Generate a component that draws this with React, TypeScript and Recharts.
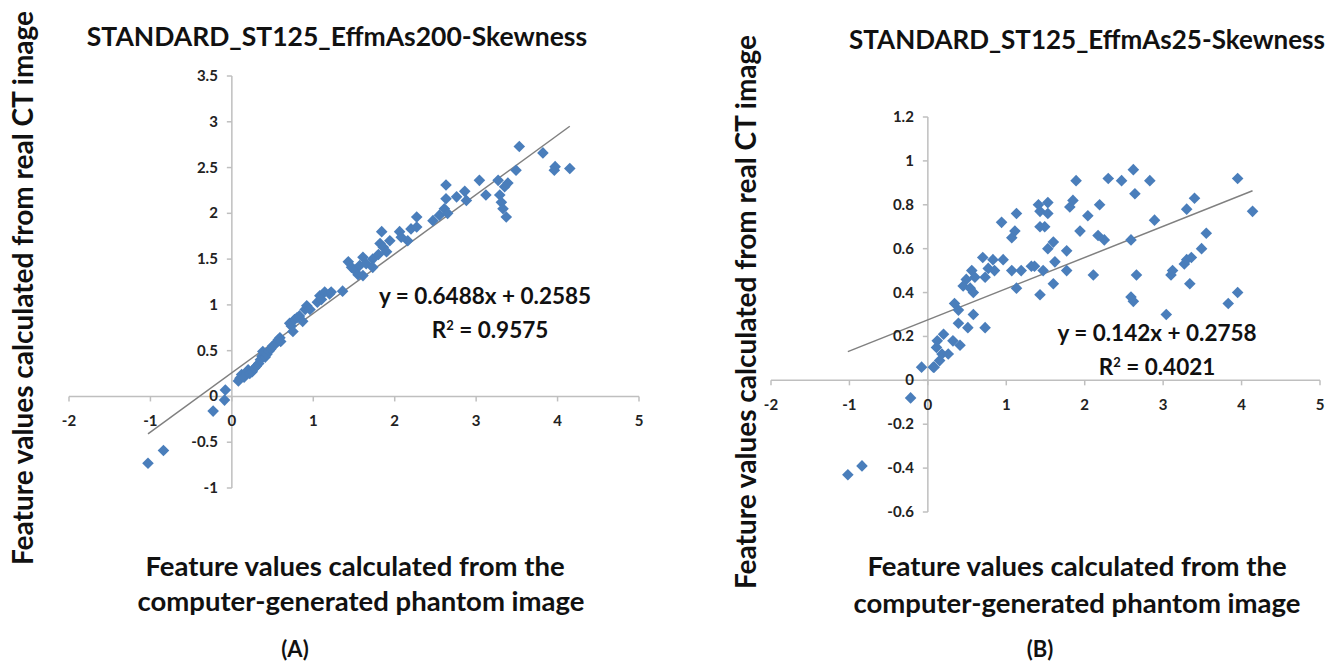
import { ScatterChart, Scatter, XAxis, YAxis, ReferenceLine, ReferenceDot } from 'recharts'

// Panel A: STANDARD_ST125_EffmAs200-Skewness
const phantomA = [
  -1.03, -0.84, -0.23, -0.09, -0.08,
  0.08, 0.1, 0.12, 0.15, 0.18, 0.2, 0.22, 0.25, 0.28, 0.3, 0.33, 0.35, 0.37, 0.38, 0.41, 0.43, 0.46, 0.48, 0.5, 0.53, 0.55, 0.57, 0.59, 0.6,
  0.71, 0.73, 0.75, 0.77, 0.8, 0.83, 0.87, 0.9, 0.92, 0.96, 1.05, 1.08, 1.1, 1.14, 1.2, 1.22, 1.36,
  1.43, 1.47, 1.51, 1.55, 1.57, 1.61, 1.61, 1.65, 1.73, 1.73, 1.8,
  1.82, 1.84, 1.86, 1.9, 1.94, 2.06, 2.08, 2.16, 2.2, 2.27, 2.27, 2.47, 2.55, 2.61, 2.63, 2.63, 2.65,
  2.76, 2.86, 2.88, 3.04, 3.12, 3.27, 3.29, 3.31, 3.35, 3.39, 3.37, 3.33, 3.49, 3.53, 3.82, 3.96, 3.97, 4.15,
]
const realA = [
  -0.73, -0.59, -0.16, -0.04, 0.07,
  0.17, 0.2, 0.24, 0.21, 0.26, 0.29, 0.25, 0.27, 0.31, 0.33, 0.36, 0.4, 0.44, 0.49, 0.43, 0.46, 0.5, 0.52, 0.55, 0.57, 0.59, 0.62, 0.64, 0.6,
  0.8, 0.77, 0.71, 0.84, 0.86, 0.88, 0.82, 0.95, 0.99, 0.95, 1.03, 1.1, 1.06, 1.14, 1.12, 1.14, 1.15,
  1.47, 1.41, 1.38, 1.33, 1.43, 1.52, 1.32, 1.45, 1.5, 1.41, 1.55,
  1.67, 1.8, 1.63, 1.58, 1.7, 1.8, 1.74, 1.7, 1.83, 1.96, 1.85, 1.92, 1.98, 2.05, 2.16, 2.31, 2.0,
  2.18, 2.24, 2.14, 2.36, 2.2, 2.36, 2.2, 2.12, 2.29, 2.33, 1.96, 2.05, 2.47, 2.73, 2.66, 2.47, 2.51, 2.49,
]

// Panel B: STANDARD_ST125_EffmAs25-Skewness
const phantomB = [
  -1.02, -0.84, -0.22, -0.08, 0.07, 0.08, 0.15, 0.18, 0.26, 0.11, 0.12, 0.2, 0.32, 0.41, 0.39, 0.51, 0.58, 0.73, 0.34, 0.39,
  0.45, 0.49, 0.54, 0.56, 0.6, 0.58, 0.7, 0.73, 0.77, 0.83, 0.85, 0.96, 0.94, 1.07, 1.11, 1.13, 1.07, 1.19, 1.13, 1.32, 1.36,
  1.43, 1.43, 1.43, 1.49, 1.53, 1.53, 1.47, 1.53, 1.6, 1.6, 1.62, 1.77, 1.77, 1.81, 1.85, 1.89, 1.41,
  2.04, 2.19, 1.94, 2.17, 2.25, 2.11, 2.3, 2.47, 2.62, 2.64, 2.83, 2.59, 2.89, 2.66, 2.59, 2.62,
  3.04, 3.1, 3.12, 3.27, 3.3, 3.36, 3.34, 3.49, 3.55, 3.3, 3.4, 3.95, 4.14, 3.83, 3.95,
]
const realB = [
  -0.43, -0.39, -0.08, 0.06, 0.06, 0.06, 0.09, 0.12, 0.12, 0.15, 0.18, 0.21, 0.18, 0.16, 0.26, 0.24, 0.3, 0.24, 0.35, 0.32,
  0.43, 0.46, 0.42, 0.5, 0.47, 0.4, 0.56, 0.47, 0.51, 0.55, 0.5, 0.55, 0.72, 0.65, 0.68, 0.76, 0.5, 0.5, 0.42, 0.52, 0.52,
  0.39, 0.77, 0.7, 0.7, 0.76, 0.81, 0.5, 0.6, 0.63, 0.44, 0.54, 0.5, 0.59, 0.79, 0.82, 0.91, 0.8,
  0.75, 0.8, 0.68, 0.66, 0.64, 0.48, 0.92, 0.91, 0.96, 0.85, 0.91, 0.64, 0.73, 0.48, 0.38, 0.36,
  0.3, 0.48, 0.5, 0.53, 0.55, 0.56, 0.44, 0.6, 0.67, 0.78, 0.83, 0.92, 0.77, 0.35, 0.4,
]

const xTicks = [-2, -1, 0, 1, 2, 3, 4, 5]
const yTicksA = [-1, -0.5, 0, 0.5, 1, 1.5, 2, 2.5, 3, 3.5]
const yTicksB = [-0.6, -0.4, -0.2, 0, 0.2, 0.4, 0.6, 0.8, 1, 1.2]

// Excel trendline fits shown on the chart
const fitA = { slope: 0.6488, intercept: 0.2585, r2: '0.9575' }
const fitB = { slope: 0.142, intercept: 0.2758, r2: '0.4021' }

const BLUE = '#4a7ebb'
const AXIS = '#bfbfbf'
const FONT = 'Lato, "Open Sans", sans-serif'

const Diamond = (props: any) => {
  const { cx, cy } = props
  const r = 5.8
  return <polygon points={`${cx},${cy - r} ${cx + r},${cy} ${cx},${cy + r} ${cx - r},${cy}`} fill={BLUE} />
}

const XTickMark = ({ cx, cy, label }: any) => (
  <g>
    <line x1={cx} y1={cy} x2={cx} y2={cy + 5} stroke={AXIS} strokeWidth={1.5} />
    <text x={cx} y={cy + 30} textAnchor="middle" fontFamily={FONT} fontWeight={700} fontSize={15} fill="#222">{label}</text>
  </g>
)

const YTickMark = ({ cx, cy, label }: any) => (
  <g>
    <line x1={cx - 5} y1={cy} x2={cx} y2={cy} stroke={AXIS} strokeWidth={1.5} />
    <text x={cx - 14} y={cy + 5} textAnchor="end" fontFamily={FONT} fontWeight={700} fontSize={15} fill="#222">{label}</text>
  </g>
)

const fmt = (v: number) => String(v)

function Panel({ xs, ys, yTicks, yDomain, fit, width, height, margin }: any) {
  const data = xs.map((x: number, i: number) => ({ x, y: ys[i] }))
  const x0 = Math.min(...xs)
  const x1 = Math.max(...xs)
  return (
    <ScatterChart width={width} height={height} margin={margin}>
      <XAxis type="number" dataKey="x" domain={[-2, 5]} hide />
      <YAxis type="number" dataKey="y" domain={yDomain} hide />
      <ReferenceLine y={0} stroke={AXIS} strokeWidth={1.5} />
      <ReferenceLine x={0} stroke={AXIS} strokeWidth={1.5} />
      {xTicks.map((t) => (
        <ReferenceDot key={'x' + t} x={t} y={0} r={0} ifOverflow="visible"
          shape={(p: any) => <XTickMark cx={p.cx} cy={p.cy} label={fmt(t)} />} />
      ))}
      {yTicks.map((t: number) => (
        <ReferenceDot key={'y' + t} x={0} y={t} r={0} ifOverflow="visible"
          shape={(p: any) => <YTickMark cx={p.cx} cy={p.cy} label={fmt(t)} />} />
      ))}
      <Scatter data={data} shape={<Diamond />} isAnimationActive={false} />
      <ReferenceLine
        segment={[
          { x: x0, y: fit.slope * x0 + fit.intercept },
          { x: x1, y: fit.slope * x1 + fit.intercept },
        ]}
        stroke="#808080"
        strokeWidth={1.5}
        ifOverflow="visible"
      />
    </ScatterChart>
  )
}

const textBase: any = {
  position: 'absolute',
  fontFamily: FONT,
  fontWeight: 700,
  color: '#111',
  whiteSpace: 'nowrap',
  lineHeight: 1.15,
}

function Caption({ x, y, size, children, weight }: any) {
  return (
    <div style={{
      ...textBase,
      left: x,
      top: y,
      fontSize: size,
      fontWeight: weight ?? 700,
      transform: 'translate(-50%, -50%)',
    }}>
      {children}
    </div>
  )
}

export default function App() {
  return (
    <div style={{ position: 'absolute', left: 0, top: 0, width: 1335, height: 664, background: '#fff', overflow: 'hidden' }}>
      <div style={{ position: 'absolute', left: 0, top: 0 }}>
        <Panel xs={phantomA} ys={realA} yTicks={yTicksA} yDomain={[-1, 3.5]} fit={fitA}
          width={660} height={664} margin={{ top: 76, right: 21, bottom: 176, left: 69 }} />
      </div>
      <div style={{ position: 'absolute', left: 680, top: 0 }}>
        <Panel xs={phantomB} ys={realB} yTicks={yTicksB} yDomain={[-0.6, 1.2]} fit={fitB}
          width={655} height={664} margin={{ top: 117, right: 15, bottom: 152, left: 91 }} />
      </div>

      <Caption x={337} y={36} size={26.5}>STANDARD_ST125_EffmAs200-Skewness</Caption>
      <Caption x={1087} y={40} size={26}>STANDARD_ST125_EffmAs25-Skewness</Caption>

      <Caption x={22} y={288} size={28}>
        <div style={{ transform: 'rotate(-90deg)' }}>Feature values calculated from real CT image</div>
      </Caption>
      <Caption x={745} y={312} size={28}>
        <div style={{ transform: 'rotate(-90deg)' }}>Feature values calculated from real CT image</div>
      </Caption>

      <Caption x={355} y={566} size={27.5}>Feature values calculated from the</Caption>
      <Caption x={361} y={601} size={27.5}>computer-generated phantom image</Caption>
      <Caption x={1077} y={566} size={27.5}>Feature values calculated from the</Caption>
      <Caption x={1077} y={603} size={27.5}>computer-generated phantom image</Caption>

      <Caption x={295} y={649} size={22}>(A)</Caption>
      <Caption x={1040} y={649} size={22}>(B)</Caption>

      <Caption x={485} y={296} size={22.5}>y = {fitA.slope}x + {fitA.intercept}</Caption>
      <Caption x={490} y={330} size={22.5}>R<sup style={{ fontSize: 13 }}>2</sup> = {fitA.r2}</Caption>
      <Caption x={1157} y={333} size={22.5}>y = {fitB.slope}x + {fitB.intercept}</Caption>
      <Caption x={1157} y={367} size={22.5}>R<sup style={{ fontSize: 13 }}>2</sup> = {fitB.r2}</Caption>
    </div>
  )
}
